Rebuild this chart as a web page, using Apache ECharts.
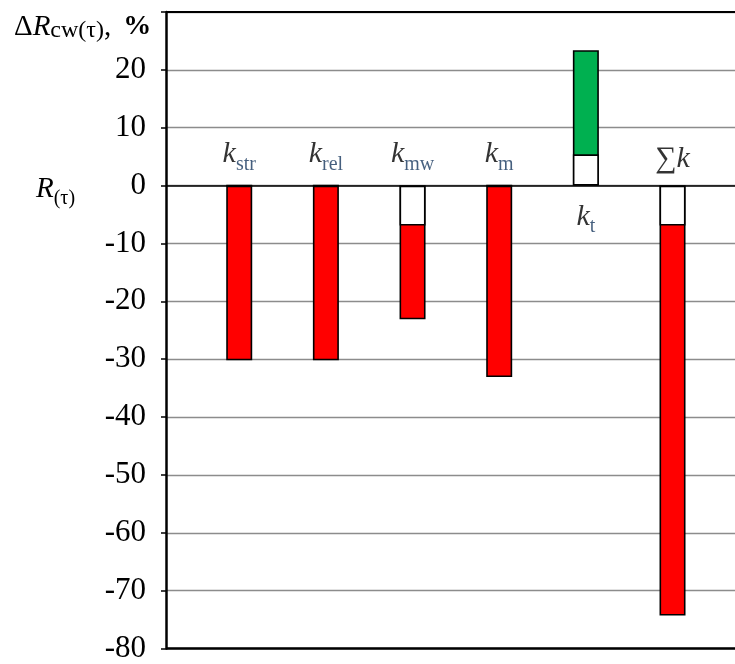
<!DOCTYPE html>
<html>
<head>
<meta charset="utf-8">
<script src="https://cdn.jsdelivr.net/npm/echarts@6/dist/echarts.min.js"></script>
<style>html,body{margin:0;padding:0;background:#fff}#c{width:735px;height:664px}</style>
</head>
<body>
<div id="c"></div>
<script>
// ---- data ----
var positions = [1, 2, 3, 4, 5, 6];
var labels = ['{k|k}{s|str}', '{k|k}{s|rel}', '{k|k}{s|mw}', '{k|k}{s|m}', '{k|k}{s|t}', '{sig|∑}{k2|k}'];
var labelBelow = [false, false, false, false, true, false];
var reservePart = [0, 0, -6.9, 0, 5.4, -6.9];            // white (hollow) part of each bar
var barTotal = [-30.2, -30.2, -23.1, -33.1, 23.4, -74.3]; // total bar end
var barColors = ['#FF0000', '#FF0000', '#FF0000', '#FF0000', '#00B050', '#FF0000'];
var yTicks = [-80, -70, -60, -50, -40, -30, -20, -10, 0, 10, 20];

var FONT = "'Liberation Serif','Times New Roman',serif";
var SUBC = '#17375E';

var chart = echarts.init(document.getElementById('c'), null, {renderer: 'canvas'});

var rich = {
  k: {fontFamily: FONT, fontStyle: 'italic', fontSize: 30, lineHeight: 35, verticalAlign: 'top', color: '#000'},
  s: {fontFamily: FONT, fontSize: 20, lineHeight: 20, verticalAlign: 'bottom', color: SUBC},
  k2: {fontFamily: FONT, fontStyle: 'italic', fontSize: 30, lineHeight: 30, verticalAlign: 'top', color: '#000'},
  sig: {fontFamily: FONT, fontSize: 30, lineHeight: 30, verticalAlign: 'top', color: '#000'}
};

var colorData = positions.map(function (x, i) {
  return {value: [x, barTotal[i]], itemStyle: {color: barColors[i]}};
});
var whiteData = positions.map(function (x, i) { return [x, reservePart[i]]; });
var labelData = positions.map(function (x, i) {
  var d = labelBelow[i] ? 16.5 : 11;
  return {
    value: [x, 0],
    label: {
      formatter: labels[i],
      position: labelBelow[i] ? 'bottom' : 'top',
      distance: d
    }
  };
});

var option = {
  animation: false,
  backgroundColor: '#fff',
  grid: {left: 166, right: 0, top: 12, bottom: 7},
  xAxis: {
    type: 'value', min: 0.155, max: 6.721,
    show: false
  },
  yAxis: {
    type: 'value', min: -80, max: 30, interval: 10,
    axisLine: {show: true, lineStyle: {color: '#000', width: 2.5}},
    axisTick: {show: true, length: 5, lineStyle: {color: '#000', width: 1.5}},
    axisLabel: {
      margin: 20,
      fontFamily: FONT, fontSize: 31, color: '#000',
      formatter: function (v) { return yTicks.indexOf(v) >= 0 ? String(v) : ''; }
    },
    splitLine: {show: true, lineStyle: {color: '#8c8c8c', width: 1.3}}
  },
  series: [
    {
      type: 'bar', barWidth: 26, data: colorData,
      itemStyle: {borderColor: '#000', borderWidth: 1.6},
      z: 3
    },
    {
      type: 'bar', barWidth: 26, barGap: '-100%', data: whiteData,
      itemStyle: {color: '#fff', borderColor: '#000', borderWidth: 1.6},
      z: 4
    },
    {
      type: 'scatter', symbolSize: 0, data: labelData, z: 5,
      label: {show: true, rich: rich},
      markLine: {
        silent: true, symbol: 'none', label: {show: false},
        data: [
          {yAxis: 0, lineStyle: {color: '#000', width: 1.6, type: 'solid'}},
          {yAxis: 30, lineStyle: {color: '#000', width: 2.2, type: 'solid'}},
          {yAxis: -80, lineStyle: {color: '#000', width: 2.5, type: 'solid'}}
        ]
      }
    }
  ],
  graphic: [
    {
      type: 'text', left: 14, top: 12.7, z: 10,
      style: {
        text: '{d|Δ}{r|R}{s|cw(τ)}{c|,}{p|%}',
        rich: {
          d: {fontFamily: FONT, fontSize: 29, lineHeight: 30, verticalAlign: 'top', color: '#000'},
          r: {fontFamily: FONT, fontSize: 29, fontStyle: 'italic', lineHeight: 30, verticalAlign: 'top', color: '#000'},
          s: {fontFamily: FONT, fontSize: 24, lineHeight: 24, verticalAlign: 'bottom', color: SUBC},
          c: {fontFamily: FONT, fontSize: 29, lineHeight: 30, verticalAlign: 'top', color: '#000'},
          p: {fontFamily: FONT, fontSize: 28, fontWeight: 'bold', lineHeight: 30, verticalAlign: 'top', color: '#000', padding: [0, 0, 0, 12]}
        }
      }
    },
    {
      type: 'text', left: 36, top: 174.7, z: 10,
      style: {
        text: '{r|R}{s|(τ)}',
        rich: {
          r: {fontFamily: FONT, fontSize: 29, fontStyle: 'italic', lineHeight: 34, verticalAlign: 'top', color: '#000'},
          s: {fontFamily: FONT, fontSize: 20, lineHeight: 20, verticalAlign: 'bottom', color: SUBC}
        }
      }
    }
  ]
};
chart.setOption(option);
</script>
</body>
</html>
